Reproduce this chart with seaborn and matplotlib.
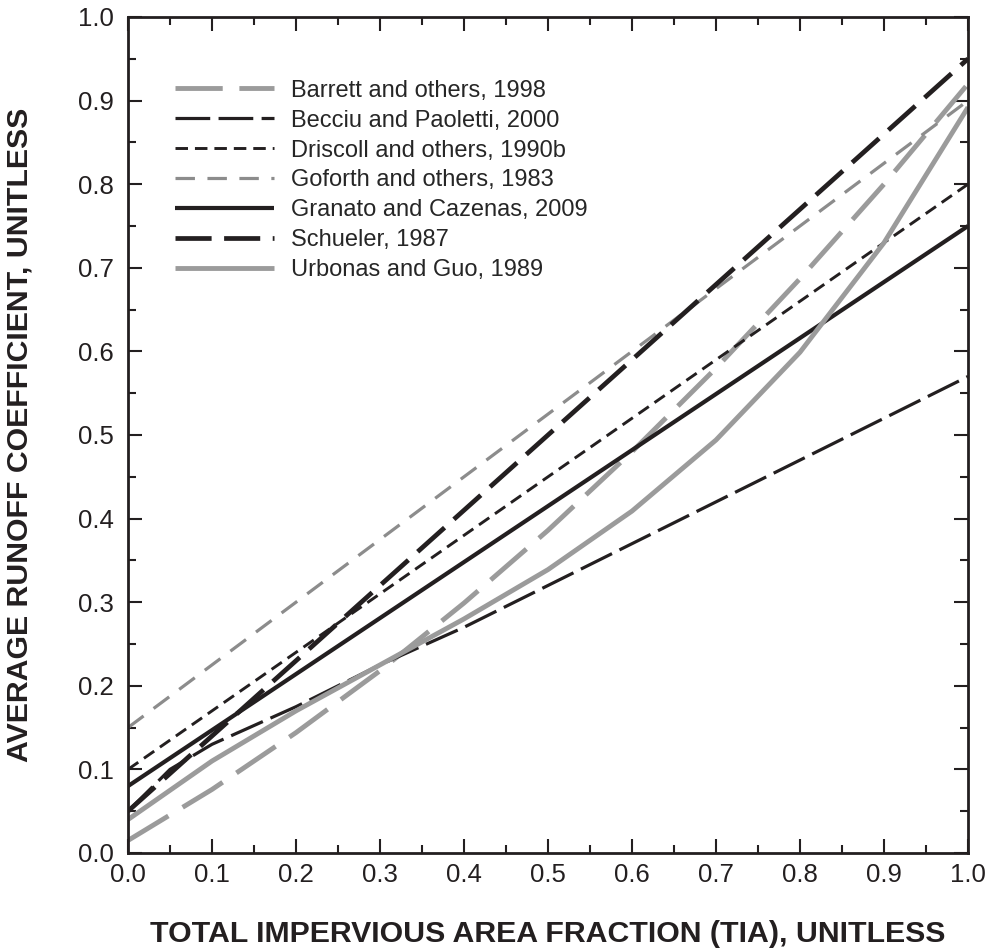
import numpy as np
import pandas as pd
import matplotlib
matplotlib.use("Agg")
import matplotlib.pyplot as plt
import seaborn as sns

# TIA values (x) and runoff coefficients
tia = [0.0, 0.1, 0.2, 0.3, 0.4, 0.5, 0.6, 0.7, 0.8, 0.9, 1.0]
barrett = [0.015, 0.076, 0.144, 0.218, 0.299, 0.386, 0.480, 0.580, 0.687, 0.800, 0.920]
becciu_x = [0.0, 0.05, 0.1, 0.2, 0.3, 0.4, 0.5, 0.6, 0.7, 0.8, 0.9, 1.0]
becciu = [0.05, 0.10, 0.13, 0.175, 0.225, 0.27, 0.32, 0.37, 0.42, 0.47, 0.52, 0.57]
driscoll = [0.10, 0.17, 0.24, 0.31, 0.38, 0.45, 0.52, 0.59, 0.66, 0.73, 0.80]
goforth = [0.15, 0.225, 0.30, 0.375, 0.45, 0.525, 0.60, 0.675, 0.75, 0.825, 0.90]
granato = [0.08, 0.147, 0.214, 0.281, 0.348, 0.415, 0.482, 0.549, 0.616, 0.683, 0.75]
schueler = [0.05, 0.14, 0.23, 0.32, 0.41, 0.50, 0.59, 0.68, 0.77, 0.86, 0.95]
urbonas = [0.04, 0.11, 0.17, 0.225, 0.28, 0.339, 0.409, 0.494, 0.599, 0.730, 0.892]

labels = ["Barrett and others, 1998", "Becciu and Paoletti, 2000",
          "Driscoll and others, 1990b", "Goforth and others, 1983",
          "Granato and Cazenas, 2009", "Schueler, 1987", "Urbonas and Guo, 1989"]

black = "#231f20"
grey = "#9b9b9b"
# (x, y, color, linewidth pt, dash pattern pt or None)
series = [
    (tia, barrett, grey, 3.5, (34, 12)),
    (becciu_x, becciu, black, 2.3, (25, 6)),
    (tia, driscoll, black, 2.1, (9, 5)),
    (tia, goforth, "#8c8c8c", 2.3, (14, 9)),
    (tia, granato, black, 3.0, None),
    (tia, schueler, black, 3.4, (26, 9)),
    (tia, urbonas, grey, 3.5, None),
]

sns.set_style("ticks")
plt.rcParams["font.family"] = ["Liberation Sans", "DejaVu Sans"]
plt.rcParams["lines.scale_dashes"] = False

fig = plt.figure(figsize=(9.85, 9.49), dpi=100)
ax = fig.add_axes([128 / 985, 96 / 949, 840 / 985, 836 / 949])

for (x, y, c, lw, dash), lab in zip(series, labels):
    df = pd.DataFrame({"x": x, "y": y})
    sns.lineplot(data=df, x="x", y="y", ax=ax, color=c, linewidth=lw,
                 label=lab, errorbar=None)
    line = ax.lines[-1]
    if dash is not None:
        line.set_dashes(dash)
    line.set_solid_capstyle("butt")

ax.set_xlim(0, 1)
ax.set_ylim(0, 1)
ax.set_xticks(np.arange(0, 1.01, 0.1))
ax.set_yticks(np.arange(0, 1.01, 0.1))
ax.set_xticks(np.arange(0.05, 1.0, 0.1), minor=True)
ax.set_yticks(np.arange(0.05, 1.0, 0.1), minor=True)
ax.xaxis.set_major_formatter(matplotlib.ticker.FormatStrFormatter("%.1f"))
ax.yaxis.set_major_formatter(matplotlib.ticker.FormatStrFormatter("%.1f"))
ax.tick_params(which="both", direction="in", top=True, right=True,
               width=1.5, color=black, labelsize=18.5, labelcolor=black)
ax.tick_params(which="major", length=10)
ax.tick_params(which="minor", length=6)
ax.tick_params(axis="x", pad=7)
ax.tick_params(axis="y", pad=10)
for s in ax.spines.values():
    s.set_linewidth(2.0)
    s.set_color(black)

ax.set_xlabel("TOTAL IMPERVIOUS AREA FRACTION (TIA), UNITLESS",
              fontsize=21.8, fontweight="bold", color=black)
ax.set_ylabel("AVERAGE RUNOFF COEFFICIENT, UNITLESS",
              fontsize=21.8, fontweight="bold", color=black)
ax.xaxis.set_label_coords(0.5, -0.08)
ax.yaxis.set_label_coords(-0.113, 0.5)

ax.legend(loc="upper left", bbox_to_anchor=(0.056, 0.925), frameon=False,
          fontsize=17, handlelength=4.2, handletextpad=0.7,
          labelspacing=0.335, borderpad=0, borderaxespad=0)

fig.savefig("out.png", dpi=100)
